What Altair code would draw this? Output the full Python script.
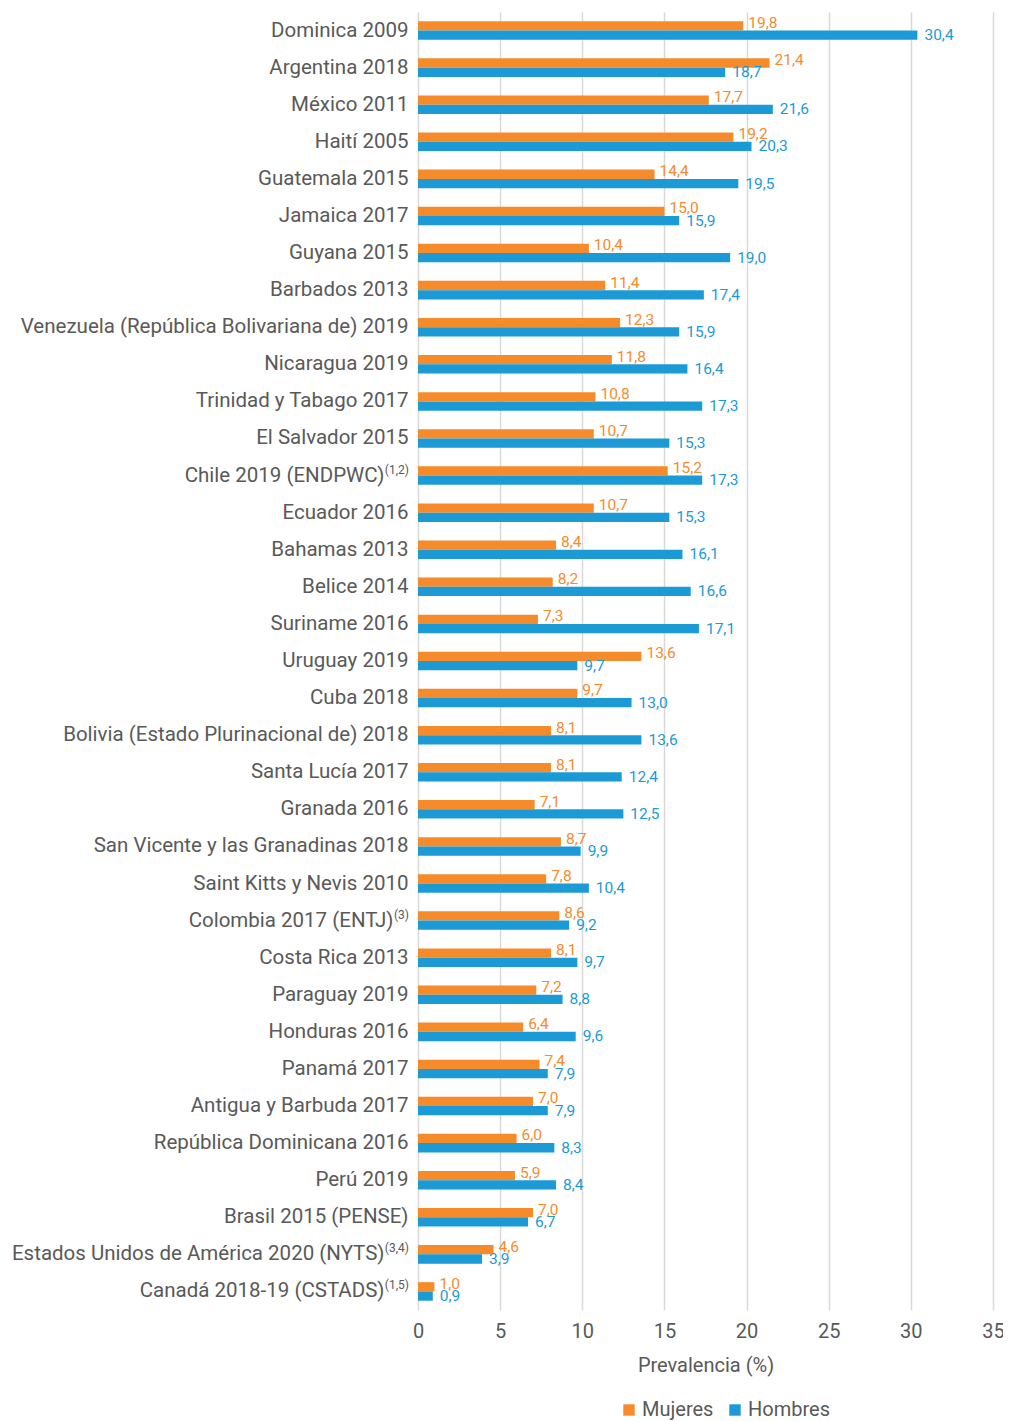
import altair as alt
import pandas as pd

categories = [
    "Dominica 2009", "Argentina 2018", "México 2011", "Haití 2005", "Guatemala 2015",
    "Jamaica 2017", "Guyana 2015", "Barbados 2013",
    "Venezuela (República Bolivariana de) 2019", "Nicaragua 2019",
    "Trinidad y Tabago 2017", "El Salvador 2015", "Chile 2019 (ENDPWC)",
    "Ecuador 2016", "Bahamas 2013", "Belice 2014", "Suriname 2016", "Uruguay 2019",
    "Cuba 2018", "Bolivia (Estado Plurinacional de) 2018", "Santa Lucía 2017",
    "Granada 2016", "San Vicente y las Granadinas 2018", "Saint Kitts y Nevis 2010",
    "Colombia 2017 (ENTJ)", "Costa Rica 2013", "Paraguay 2019", "Honduras 2016",
    "Panamá 2017", "Antigua y Barbuda 2017", "República Dominicana 2016", "Perú 2019",
    "Brasil 2015 (PENSE)", "Estados Unidos de América 2020 (NYTS)",
    "Canadá 2018-19 (CSTADS)",
]
superscripts = [
    "", "", "", "", "", "", "", "", "", "", "", "", "(1,2)", "", "", "", "", "",
    "", "", "", "", "", "", "(3)", "", "", "", "", "", "", "", "", "(3,4)", "(1,5)",
]
mujeres = [19.8, 21.4, 17.7, 19.2, 14.4, 15.0, 10.4, 11.4, 12.3, 11.8, 10.8, 10.7,
           15.2, 10.7, 8.4, 8.2, 7.3, 13.6, 9.7, 8.1, 8.1, 7.1, 8.7, 7.8, 8.6, 8.1,
           7.2, 6.4, 7.4, 7.0, 6.0, 5.9, 7.0, 4.6, 1.0]
hombres = [30.4, 18.7, 21.6, 20.3, 19.5, 15.9, 19.0, 17.4, 15.9, 16.4, 17.3, 15.3,
           17.3, 15.3, 16.1, 16.6, 17.1, 9.7, 13.0, 13.6, 12.4, 12.5, 9.9, 10.4, 9.2,
           9.7, 8.8, 9.6, 7.9, 7.9, 8.3, 8.4, 6.7, 3.9, 0.9]
series = ["Mujeres", "Hombres"]
colors = ["#F68B2C", "#1B9AD6"]

FONT = "Roboto"
GRAY = "#595959"

rows = []
for c, m, h in zip(categories, mujeres, hombres):
    rows.append({"cat": c, "sexo": "Mujeres", "v": m, "lab": f"{m:.1f}".replace(".", ",")})
    rows.append({"cat": c, "sexo": "Hombres", "v": h, "lab": f"{h:.1f}".replace(".", ",")})
df = pd.DataFrame(rows)
sup_df = pd.DataFrame([{"cat": c, "sup": s} for c, s in zip(categories, superscripts) if s])

long_sup = [c for c, s in zip(categories, superscripts) if len(s) > 3]
short_sup = [c for c, s in zip(categories, superscripts) if 0 < len(s) <= 3]


def in_list(lst):
    return "indexof([" + ",".join("'" + x + "'" for x in lst) + "], datum.value) >= 0"


label_padding = {
    "condition": [
        {"test": in_list(long_sup), "value": 34},
        {"test": in_list(short_sup), "value": 25},
    ],
    "value": 10,
}

y_enc = alt.Y("cat:N", sort=categories,
              scale=alt.Scale(paddingInner=0.5, paddingOuter=0.25),
              axis=alt.Axis(title=None, domain=False, ticks=False, labelFontSize=20.5,
                            labelColor=GRAY, labelFont=FONT, labelPadding=label_padding,
                            labelLimit=600))
yoff = alt.YOffset("sexo:N", sort=series, scale=alt.Scale(domain=series, paddingInner=0))
x_enc = alt.X("v:Q", scale=alt.Scale(domain=[0, 35], nice=False),
              axis=alt.Axis(values=[0, 5, 10, 15, 20, 25, 30, 35], title="Prevalencia (%)",
                            grid=True, gridColor="#d9d9d9", gridWidth=1.5, domain=False,
                            ticks=False, labelFontSize=20, labelColor=GRAY, labelFont=FONT,
                            labelFlush=False, labelPadding=11, titleFontSize=20,
                            titleColor=GRAY, titleFont=FONT, titleFontWeight="normal",
                            titlePadding=14))
color_enc = alt.Color("sexo:N", sort=series,
                      scale=alt.Scale(domain=series, range=colors),
                      legend=alt.Legend(title=None, orient="none", direction="horizontal",
                                        legendX=201, legendY=1388, symbolType="square",
                                        symbolSize=130, symbolStrokeWidth=0,
                                        labelFontSize=20, labelFont=FONT, labelColor=GRAY,
                                        labelOffset=3, columnPadding=11))

base = alt.Chart(df)
bars = base.mark_bar().encode(y=y_enc, yOffset=yoff, x=x_enc, color=color_enc)

lab_m = base.transform_filter(alt.datum.sexo == "Mujeres").mark_text(
    align="left", baseline="middle", dx=5, dy=-3, fontSize=15.5, font=FONT, color=colors[0]
).encode(y=alt.Y("cat:N", sort=categories), yOffset=yoff, x="v:Q", text="lab:N")
lab_h = base.transform_filter(alt.datum.sexo == "Hombres").mark_text(
    align="left", baseline="middle", dx=7, dy=0, fontSize=15.5, font=FONT, color=colors[1]
).encode(y=alt.Y("cat:N", sort=categories), yOffset=yoff, x="v:Q", text="lab:N")

sups = alt.Chart(sup_df).mark_text(
    align="right", baseline="middle", dy=-6, fontSize=12, font=FONT, color=GRAY
).encode(y=alt.Y("cat:N", sort=categories), x=alt.value(-9), text="sup:N")

chart = alt.layer(bars, lab_m, lab_h, sups).properties(
    width=575, height=1298,
    autosize=alt.AutoSizeParams(type="none"),
    padding={"left": 410, "top": 4, "right": 10, "bottom": 115},
).configure_view(stroke=None)

chart.save("out.html", embed_options={"renderer": "svg", "actions": False})
